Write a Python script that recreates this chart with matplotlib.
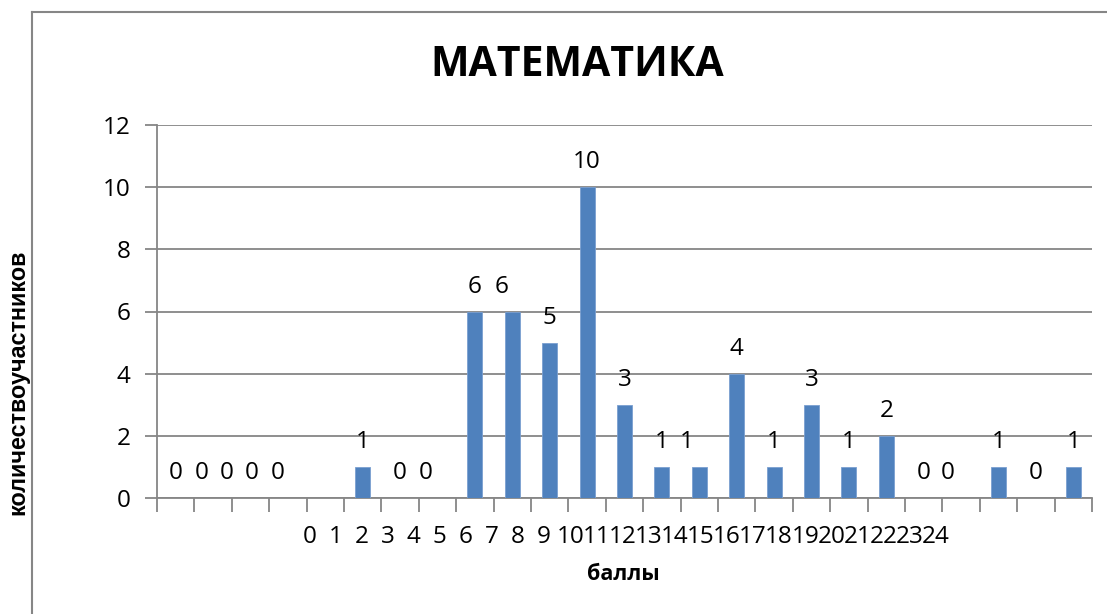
import matplotlib
matplotlib.use('Agg')
import matplotlib.pyplot as plt
from matplotlib.lines import Line2D

# number of participants per score slot (25 slots on the category axis)
counts = [0, 0, 0, 0, 0, 1, 0, 0, 6, 6, 5, 10, 3, 1, 1, 4, 1, 3, 1, 2, 0, 0, 1, 0, 1]
# axis labels, as they appear under the axis
score_labels = [str(s) for s in range(25)]

title = "МАТЕМАТИКА"
xlabel = "баллы"
ylabel = "количествоучастников"

# layout: data labels of equal neighbours are pushed left (Excel artefact)
label_shift = [0, -0.30, -0.63, -0.96, -1.26, 0, 0, -0.31, 0, -0.30, 0, 0, 0,
               0, -0.33, 0, 0, 0, 0, 0, 0, -0.35, 0, 0, 0]
tick_start, tick_step = 3.57, 0.698

BLUE = '#4F81BD'
GRID = '#868686'
FONT = 'Open Sans'
FS = 17.5

fig = plt.figure(figsize=(11.07, 6.14), dpi=100)
ax = fig.add_axes([157 / 1107, 1 - 498 / 614, 935 / 1107, 373 / 614])

x = list(range(len(counts)))
ax.bar(x, counts, width=0.4, color=BLUE, edgecolor='#7A9FD0', linewidth=0.6, zorder=3)

for i, v in enumerate(counts):
    ax.text(i + label_shift[i], v + 0.8, str(v), ha='center', va='center',
            fontsize=FS, family=FONT, color='black')

ax.set_xlim(-0.5, len(counts) - 0.5)
ax.set_ylim(0, 12)
ax.set_yticks(range(0, 13, 2))
ax.grid(axis='y', color=GRID, linewidth=1.3, zorder=0)

# category boundary ticks, labels drawn separately
ax.set_xticks([b - 0.5 for b in range(len(counts) + 1)])
ax.set_xticklabels([])
ax.tick_params(axis='x', length=10, width=1.3, color=GRID, direction='out')
ax.tick_params(axis='y', length=9, width=1.3, color=GRID, pad=10,
               labelsize=FS)
for lab in ax.get_yticklabels():
    lab.set_family(FONT)

trans = ax.get_xaxis_transform()
for k, lab in enumerate(score_labels):
    ax.text(tick_start + tick_step * k, -39 / 373, lab, transform=trans,
            ha='center', va='center', fontsize=FS, family=FONT)

for side in ['top', 'right']:
    ax.spines[side].set_visible(False)
for side in ['left', 'bottom']:
    ax.spines[side].set_color(GRID)
    ax.spines[side].set_linewidth(1.3)

fig.text(577 / 1107, 1 - 66 / 614, title, ha='center', va='center',
         fontsize=29.5, fontweight='bold', family=FONT)
fig.text(623 / 1107, 1 - 575 / 614, xlabel, ha='center', va='center',
         fontsize=15.5, fontweight='bold', family=FONT)
fig.text(18 / 1107, 1 - 382 / 614, ylabel, ha='center', va='center',
         rotation=90, fontsize=16.8, fontweight='bold', family='Liberation Sans')

# outer chart frame (cut off on right and bottom)
fig.add_artist(Line2D([32 / 1107, 32 / 1107], [0, 1 - 12 / 614],
                      transform=fig.transFigure, color=GRID, linewidth=1.5))
fig.add_artist(Line2D([32 / 1107, 1], [1 - 12 / 614, 1 - 12 / 614],
                      transform=fig.transFigure, color=GRID, linewidth=1.5))

fig.savefig('out.png', dpi=100)
